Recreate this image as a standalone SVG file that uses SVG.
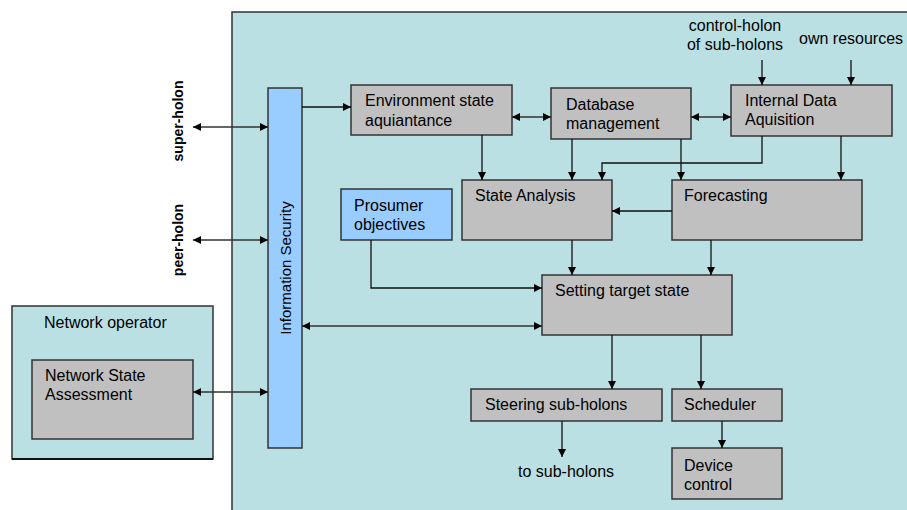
<svg xmlns="http://www.w3.org/2000/svg" width="907" height="510" viewBox="0 0 907 510">
<defs>
<marker id="ah" viewBox="0 0 10 10" refX="10" refY="5" markerWidth="9" markerHeight="8" markerUnits="userSpaceOnUse" orient="auto-start-reverse">
<path d="M0,0 L10,5 L0,10 z" fill="#000"/>
</marker>
</defs>
<style>
.t{font-family:"Liberation Sans",Arial,sans-serif;font-size:16px;fill:#000}
.b{font-family:"Liberation Sans",Arial,sans-serif;font-size:14px;font-weight:bold;fill:#000}
.g{fill:#c0c0c0;stroke:#333;stroke-width:1.5}
.bl{fill:#99ccff;stroke:#333;stroke-width:1.5}
.bg{fill:#bae0e3;stroke:#333;stroke-width:1.5}
.c{fill:none;stroke:#111;stroke-width:1.3;marker-end:url(#ah)}
.d{fill:none;stroke:#333;stroke-width:1.5;marker-start:url(#ah);marker-end:url(#ah)}
</style>
<rect width="907" height="510" fill="#fff"/>
<g id="holon"><rect class="bg" x="232" y="12" width="690" height="520"/></g>
<g id="network-operator">
<rect class="bg" x="12" y="306" width="201" height="153"/>
<line x1="12" y1="459" x2="213" y2="459" stroke="#111" stroke-width="2"/>
<text class="t" x="44" y="328">Network operator</text>
</g>
<g id="network-state-assessment">
<rect class="g" x="32" y="360" width="161" height="79"/>
<text class="t" x="45" y="381">Network State</text>
<text class="t" x="45" y="400">Assessment</text>
</g>
<g id="information-security">
<rect class="bl" x="268" y="88" width="34" height="360"/>
<text class="t" style="font-size:15px" transform="translate(291,268) rotate(-90)" text-anchor="middle">Information Security</text>
</g>
<g id="super-holon"><text class="b" transform="translate(183,121) rotate(-90)" text-anchor="middle">super-holon</text></g>
<g id="peer-holon"><text class="b" transform="translate(183,240) rotate(-90)" text-anchor="middle">peer-holon</text></g>
<g id="env-state">
<rect class="g" x="351" y="85" width="161" height="50"/>
<text class="t" x="365" y="106">Environment state</text>
<text class="t" x="365" y="126">aquiantance</text>
</g>
<g id="database">
<rect class="g" x="551" y="88" width="140" height="51"/>
<text class="t" x="566" y="110">Database</text>
<text class="t" x="566" y="129">management</text>
</g>
<g id="internal-data">
<rect class="g" x="731" y="85" width="161" height="51"/>
<text class="t" x="745" y="106">Internal Data</text>
<text class="t" x="745" y="125">Aquisition</text>
</g>
<g id="control-holon-label">
<text class="t" x="735" y="31" text-anchor="middle">control-holon</text>
<text class="t" x="735" y="50" text-anchor="middle">of sub-holons</text>
</g>
<g id="own-resources-label"><text class="t" x="799" y="44">own resources</text></g>
<g id="state-analysis">
<rect class="g" x="462" y="180" width="150" height="60"/>
<text class="t" x="475" y="201">State Analysis</text>
</g>
<g id="forecasting">
<rect class="g" x="672" y="180" width="190" height="60"/>
<text class="t" x="684" y="201">Forecasting</text>
</g>
<g id="prosumer">
<rect class="bl" x="341" y="189" width="111" height="51"/>
<text class="t" x="354" y="211">Prosumer</text>
<text class="t" x="354" y="230">objectives</text>
</g>
<g id="setting-target">
<rect class="g" x="542" y="275" width="190" height="60"/>
<text class="t" x="555" y="296">Setting target state</text>
</g>
<g id="steering">
<rect class="g" x="471" y="389" width="191" height="32"/>
<text class="t" x="485" y="410">Steering sub-holons</text>
</g>
<g id="scheduler">
<rect class="g" x="672" y="389" width="110" height="32"/>
<text class="t" x="684" y="410">Scheduler</text>
</g>
<g id="device-control">
<rect class="g" x="672" y="448" width="110" height="51"/>
<text class="t" x="684" y="471">Device</text>
<text class="t" x="684" y="490">control</text>
</g>
<g id="to-sub-holons-label"><text class="t" x="518" y="477">to sub-holons</text></g>
<g id="connectors">
<path class="d" d="M193,127 H268"/>
<path class="d" d="M193,240 H268"/>
<path class="d" d="M193,392 H268"/>
<path class="c" d="M302,107 H351"/>
<path class="d" d="M512,117 H551"/>
<path class="d" d="M691,117 H731"/>
<path class="c" d="M762,60 V85"/>
<path class="c" d="M851,60 V85"/>
<path class="c" d="M482,135 V180"/>
<path class="c" d="M572,139 V180"/>
<path class="c" d="M762,136 V163 H602 V180"/>
<path class="c" d="M681,139 V180"/>
<path class="c" d="M841,136 V180"/>
<path class="c" d="M672,211 H612"/>
<path class="c" d="M371,240 V288 H542"/>
<path class="d" d="M302,326 H542"/>
<path class="c" d="M572,240 V275"/>
<path class="c" d="M711,240 V275"/>
<path class="c" d="M612,335 V389"/>
<path class="c" d="M701,335 V389"/>
<path class="c" d="M562,421 V457"/>
<path class="c" d="M722,421 V448"/>
</g>
</svg>
